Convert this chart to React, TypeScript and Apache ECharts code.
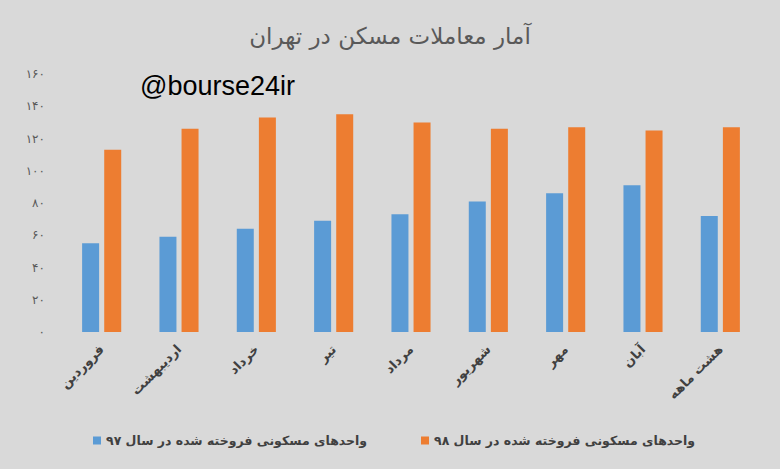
import React, { useEffect, useRef } from "react";
import * as echarts from "echarts";

const TITLE = "آمار معاملات مسکن در تهران";
const WATERMARK = "@bourse24ir";
const categories = ["فروردین", "اردیبهشت", "خرداد", "تیر", "مرداد", "شهریور", "مهر", "آبان", "هشت ماهه"];
const series97Name = "واحدهای مسکونی فروخته شده در سال ۹۷";
const series98Name = "واحدهای مسکونی فروخته شده در سال ۹۸";
const values97 = [55, 59, 64, 69, 73, 81, 86, 91, 72];
const values98 = [113, 126, 133, 135, 130, 126, 127, 125, 127];
const yMin = 0;
const yMax = 160;
const yInterval = 20;

const faDigits = "۰۱۲۳۴۵۶۷۸۹";
const toFa = (v: number | string) => String(v).replace(/\d/g, (d) => faDigits[Number(d)]);

const FONT = "'DejaVu Sans', 'Noto Sans', sans-serif";

export default function App() {
  const ref = useRef<HTMLDivElement>(null);
  useEffect(() => {
    if (!ref.current) return;
    const chart = echarts.init(ref.current, undefined, { renderer: "svg" });
    chart.setOption({
      animation: false,
      backgroundColor: "#d9d9d9",
      title: {
        text: TITLE,
        left: "center",
        top: 19,
        textStyle: { fontFamily: FONT, fontSize: 23, fontWeight: "normal", color: "#595959" },
      },
      graphic: [
        {
          type: "text",
          left: 140,
          top: 72,
          style: { text: WATERMARK, fontFamily: "Arial, 'Liberation Sans', sans-serif", fontSize: 27, fill: "#000000" },
        },
      ],
      legend: [
        {
          data: [series97Name],
          left: 88,
          top: 429,
          icon: "rect",
          itemWidth: 8,
          itemHeight: 8,
          itemGap: 6,
          textStyle: { fontFamily: FONT, fontSize: 12.5, fontWeight: "bold", color: "#404040" },
        },
        {
          data: [series98Name],
          left: 416,
          top: 429,
          icon: "rect",
          itemWidth: 8,
          itemHeight: 8,
          itemGap: 6,
          textStyle: { fontFamily: FONT, fontSize: 12.5, fontWeight: "bold", color: "#404040" },
        },
      ],
      grid: { left: 63, right: 21, top: 74, bottom: 137, containLabel: false },
      xAxis: {
        type: "category",
        data: categories,
        axisLine: { show: false },
        axisTick: { show: false },
        axisLabel: {
          rotate: 45,
          margin: 15,
          interval: 0,
          fontFamily: FONT,
          fontSize: 13,
          fontWeight: "bold",
          color: "#404040",
        },
      },
      yAxis: {
        type: "value",
        min: yMin,
        max: yMax,
        interval: yInterval,
        splitLine: { show: false },
        axisLine: { show: false },
        axisTick: { show: false },
        axisLabel: {
          margin: 18,
          fontFamily: FONT,
          fontSize: 12,
          color: "#595959",
          formatter: (v: number) => toFa(v),
        },
      },
      series: [
        {
          name: series97Name,
          type: "bar",
          data: values97,
          barWidth: 17,
          barGap: "30%",
          itemStyle: { color: "#5b9bd5" },
        },
        {
          name: series98Name,
          type: "bar",
          data: values98,
          barWidth: 17,
          barGap: "30%",
          itemStyle: { color: "#ed7d31" },
        },
      ],
    });
    return () => chart.dispose();
  }, []);
  return <div ref={ref} style={{ position: "fixed", left: 0, top: 0, width: 780, height: 469 }} />;
}
